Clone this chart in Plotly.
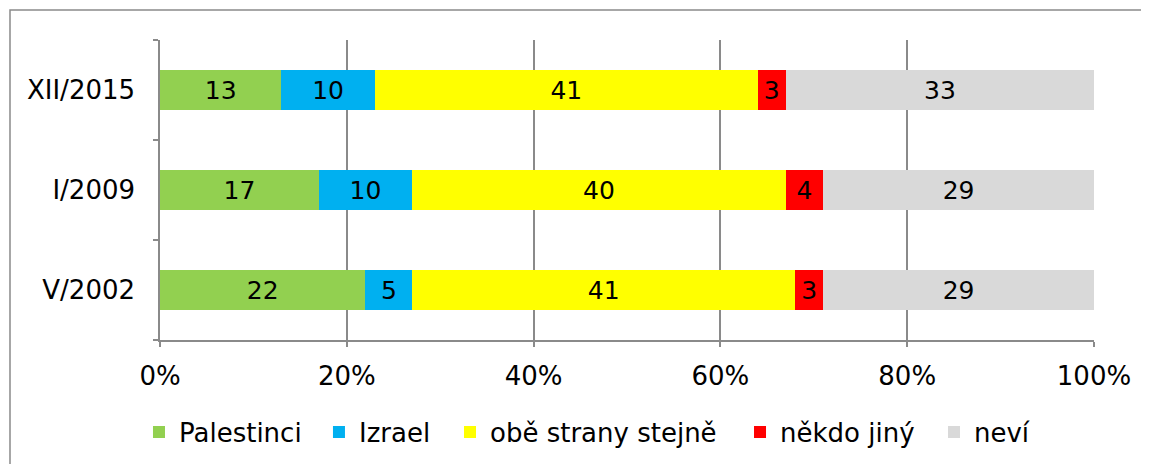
import plotly.graph_objects as go

# survey waves, bottom to top
waves = ["V/2002", "I/2009", "XII/2015"]

palestinci = [22, 17, 13]
izrael = [5, 10, 10]
obe_strany = [41, 40, 41]
nekdo_jiny = [3, 4, 3]
nevi = [29, 29, 33]

series_names = ["Palestinci", "Izrael", "obě strany stejně", "někdo jiný", "neví"]
series_values = [palestinci, izrael, obe_strany, nekdo_jiny, nevi]
series_colors = ["#92D050", "#00B0F0", "#FFFF00", "#FF0000", "#D9D9D9"]

x_ticks = [0, 20, 40, 60, 80, 100]
x_ticktext = ["0%", "20%", "40%", "60%", "80%", "100%"]

FONT = "DejaVu Sans"
GRID = "#8a8a8a"

# each legend entry gets its own legend box so the spacing can follow the original
legend_ids = ["legend", "legend2", "legend3", "legend4", "legend5"]
legend_x = [-0.0225, 0.1702, 0.3105, 0.621, 0.8287]

fig = go.Figure()
for name, vals, col, lid in zip(series_names, series_values, series_colors, legend_ids):
    fig.add_trace(go.Bar(
        y=waves, x=vals, name=name, orientation="h", legend=lid,
        marker=dict(color=col, line=dict(width=0)),
        text=[str(v) for v in vals], texttemplate="%{text}", textposition="inside",
        insidetextanchor="middle", textangle=0, constraintext="none",
        textfont=dict(family=FONT, size=25, color="black"),
        hoverinfo="skip"))

# page body has an 8px margin, so the figure is 8px smaller than the window
fig.update_layout(
    barmode="stack",
    bargap=0.6,
    width=1141, height=456,
    margin=dict(l=152, r=55, t=32, b=124, autoexpand=False),
    paper_bgcolor="white", plot_bgcolor="white",
    font=dict(family=FONT, size=26, color="black"),
    showlegend=True,
)
for lid, lx in zip(legend_ids, legend_x):
    fig.update_layout({lid: dict(orientation="h", x=lx, xanchor="left", y=-0.307, yanchor="middle",
                                 font=dict(family=FONT, size=26, color="black"),
                                 itemwidth=30, bgcolor="rgba(0,0,0,0)")})

fig.update_xaxes(
    range=[0, 100], tickmode="array", tickvals=x_ticks, ticktext=x_ticktext,
    showgrid=True, gridcolor=GRID, gridwidth=1.5,
    showline=True, linecolor=GRID, linewidth=1.5,
    ticks="outside", ticklen=5, tickcolor=GRID, tickwidth=1.5,
    zeroline=False, automargin=False, ticklabelstandoff=7,
)
fig.update_yaxes(
    type="category", categoryorder="array", categoryarray=waves,
    range=[-0.5, 2.5],
    showline=True, linecolor=GRID, linewidth=1.5,
    ticks="outside", ticklen=5, tickcolor=GRID, tickwidth=1.5,
    tickson="boundaries", showgrid=False, automargin=False,
    ticklabelstandoff=18,
)

# outer chart frame
fig.add_shape(type="rect", xref="paper", yref="paper",
              x0=-0.1606, x1=1.2, y0=-0.45, y1=1.1,
              line=dict(color=GRID, width=1.5), fillcolor="rgba(0,0,0,0)", layer="below")

fig.write_html("out.html")
